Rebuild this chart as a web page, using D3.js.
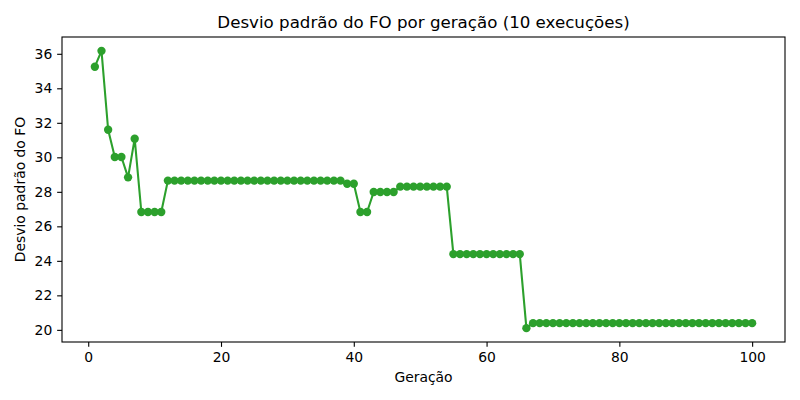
<!DOCTYPE html>
<html>
<head>
<meta charset="utf-8">
<script src="https://cdn.jsdelivr.net/npm/d3@7"></script>
<style>
  html, body { margin: 0; padding: 0; background: #fff; }
  svg { display: block; font-family: "DejaVu Sans", sans-serif; }
</style>
</head>
<body>
<svg id="chart" width="800" height="400"></svg>
<script>
const title = "Desvio padrão do FO por geração (10 execuções)";
const xLabel = "Geração";
const yLabel = "Desvio padrão do FO";

const generations = [
  1,2,3,4,5,6,7,8,9,10,
  11,12,13,14,15,16,17,18,19,20,
  21,22,23,24,25,26,27,28,29,30,
  31,32,33,34,35,36,37,38,39,40,
  41,42,43,44,45,46,47,48,49,50,
  51,52,53,54,55,56,57,58,59,60,
  61,62,63,64,65,66,67,68,69,70,
  71,72,73,74,75,76,77,78,79,80,
  81,82,83,84,85,86,87,88,89,90,
  91,92,93,94,95,96,97,98,99,100
];

const stdDev = [
  35.25,36.17,31.60,30.02,30.02,28.84,31.08,26.83,26.83,26.83,
  26.83,28.65,28.65,28.65,28.65,28.65,28.65,28.65,28.65,28.65,
  28.65,28.65,28.65,28.65,28.65,28.65,28.65,28.65,28.65,28.65,
  28.65,28.65,28.65,28.65,28.65,28.65,28.65,28.65,28.47,28.47,
  26.83,26.83,27.99,27.99,27.99,27.99,28.30,28.30,28.30,28.30,
  28.30,28.30,28.30,28.30,24.39,24.39,24.39,24.39,24.39,24.39,
  24.39,24.39,24.39,24.39,24.39,20.10,20.39,20.39,20.39,20.39,
  20.39,20.39,20.39,20.39,20.39,20.39,20.39,20.39,20.39,20.39,
  20.39,20.39,20.39,20.39,20.39,20.39,20.39,20.39,20.39,20.39,
  20.39,20.39,20.39,20.39,20.39,20.39,20.39,20.39,20.39,20.39
];

const xTicks = [0, 20, 40, 60, 80, 100];
const yTicks = [20, 22, 24, 26, 28, 30, 32, 34, 36];

const color = "#2ca02c";
const margin = { left: 62, top: 37, right: 15, bottom: 58 };
const W = 800, H = 400;
const iw = W - margin.left - margin.right;
const ih = H - margin.top - margin.bottom;

const svg = d3.select("#chart");
const g = svg.append("g").attr("transform", `translate(${margin.left},${margin.top})`);

const xExt = d3.extent(generations);
const yExt = d3.extent(stdDev);
const xPad = (xExt[1] - xExt[0]) * 0.05;
const yPad = (yExt[1] - yExt[0]) * 0.05;

const x = d3.scaleLinear().domain([xExt[0] - xPad, xExt[1] + xPad]).range([0, iw]);
const y = d3.scaleLinear().domain([yExt[0] - yPad, yExt[1] + yPad]).range([ih, 0]);

const data = generations.map((gen, i) => ({ gen, v: stdDev[i] }));

// clip
svg.append("defs").append("clipPath").attr("id", "clip")
  .append("rect").attr("width", iw).attr("height", ih);

const plot = g.append("g").attr("clip-path", "url(#clip)");

plot.append("path")
  .datum(data)
  .attr("fill", "none")
  .attr("stroke", color)
  .attr("stroke-width", 2.08)
  .attr("stroke-linejoin", "round")
  .attr("stroke-linecap", "square")
  .attr("d", d3.line().x(d => x(d.gen)).y(d => y(d.v)));

plot.selectAll("circle")
  .data(data)
  .enter().append("circle")
  .attr("cx", d => x(d.gen))
  .attr("cy", d => y(d.v))
  .attr("r", 4.17)
  .attr("fill", color);

// axes
const fontTick = "13.9px";
const xAxis = d3.axisBottom(x).tickValues(xTicks).tickSize(4.86).tickPadding(4.86).tickFormat(d3.format("d"));
const yAxis = d3.axisLeft(y).tickValues(yTicks).tickSize(4.86).tickPadding(4.86).tickFormat(d3.format("d"));

const gx = g.append("g").attr("transform", `translate(0,${ih})`).call(xAxis);
const gy = g.append("g").call(yAxis);
[gx, gy].forEach(ax => {
  ax.select(".domain").remove();
  ax.selectAll(".tick line").attr("stroke", "#000").attr("stroke-width", 1.1);
  ax.selectAll(".tick text").attr("fill", "#000")
    .style("font-size", fontTick).style("font-family", "DejaVu Sans, sans-serif");
});

// frame
g.append("rect")
  .attr("x", 0).attr("y", 0).attr("width", iw).attr("height", ih)
  .attr("fill", "none").attr("stroke", "#000").attr("stroke-width", 1.1);

// title
svg.append("text")
  .attr("x", margin.left + iw / 2)
  .attr("y", 28)
  .attr("text-anchor", "middle")
  .style("font-size", "16.67px")
  .attr("fill", "#000")
  .text(title);

// x label
svg.append("text")
  .attr("x", margin.left + iw / 2)
  .attr("y", 382)
  .attr("text-anchor", "middle")
  .style("font-size", fontTick)
  .attr("fill", "#000")
  .text(xLabel);

// y label
svg.append("text")
  .attr("transform", `translate(25,${margin.top + ih / 2}) rotate(-90)`)
  .attr("text-anchor", "middle")
  .style("font-size", fontTick)
  .attr("fill", "#000")
  .text(yLabel);
</script>
</body>
</html>
